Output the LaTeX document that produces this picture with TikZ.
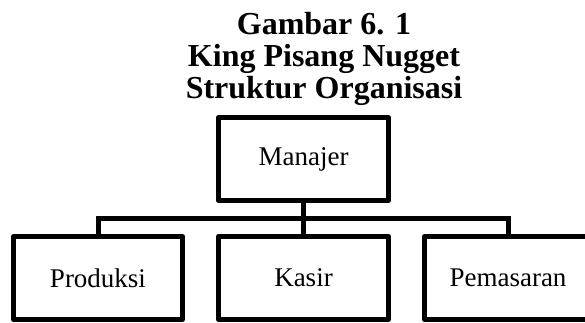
\documentclass[tikz,border=0pt]{standalone}
\usepackage{fontspec}
\setmainfont{Liberation Serif}
\begin{document}
\begin{tikzpicture}[x=1pt,y=-1pt,
  box/.style={draw,line width=5pt,line join=round,inner sep=0pt,minimum height=83pt,font=\fontsize{27}{32}\selectfont},
  ttl/.style={anchor=base,inner sep=0pt,font=\bfseries\fontsize{32}{36}\selectfont},
  conn/.style={line width=5pt,line join=miter}]
\useasboundingbox (0,0) rectangle (585,323);
\fill[white] (0,0) rectangle (585,323);
\node[ttl] (t1) at (324,35) {Gambar 6. 1};
\node[ttl] (t2) at (324,67) {King Pisang Nugget};
\node[ttl] (t3) at (324,99) {Struktur Organisasi};
\node[box,minimum width=170pt] (m) at (303.5,159) {Manajer};
\node[box,minimum width=169pt] (p) at (98,278) {Produksi};
\node[box,minimum width=170pt] (k) at (303.5,278) {Kasir};
\node[box,minimum width=167pt] (pe) at (508,278) {Pemasaran};
\coordinate (j) at (303.5,218);
\draw[conn] (m.south) -- (k.north);
\draw[conn] (p.north) |- (j) -| (pe.north);
\end{tikzpicture}
\end{document}
